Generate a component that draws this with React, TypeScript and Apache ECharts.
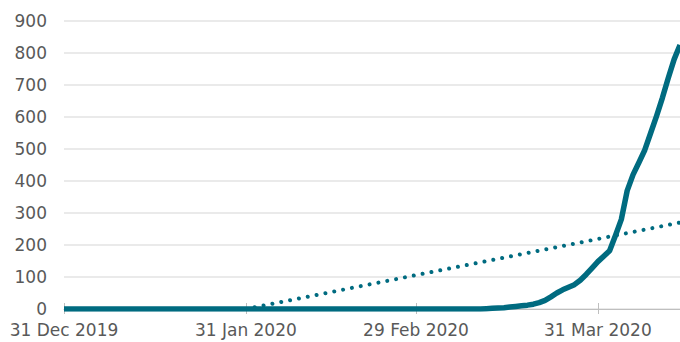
import React, { useEffect, useRef } from "react";
import * as echarts from "echarts";

// Daily dates from 31 Dec 2019 to 14 Apr 2020
const startDate = new Date(Date.UTC(2019, 11, 31));
const monthNames = ["Jan", "Feb", "Mar", "Apr", "May", "Jun", "Jul", "Aug", "Sep", "Oct", "Nov", "Dec"];
const dayCount = 106;
const categories: string[] = [];
for (let i = 0; i < dayCount; i++) {
  const d = new Date(startDate.getTime() + i * 86400000);
  categories.push(`${d.getUTCDate()} ${monthNames[d.getUTCMonth()]} ${d.getUTCFullYear()}`);
}

const tickLabels = ["31 Dec 2019", "31 Jan 2020", "29 Feb 2020", "31 Mar 2020"];

// Cumulative values (one per day)
const seriesValues: number[] = [
  0, 0, 0, 0, 0, 0, 0, 0, 0, 0,
  0, 0, 0, 0, 0, 0, 0, 0, 0, 0,
  0, 0, 0, 0, 0, 0, 0, 0, 0, 0,
  0, 0, 0, 0, 0, 0, 0, 0, 0, 0,
  0, 0, 0, 0, 0, 0, 0, 0, 0, 0,
  0, 0, 0, 0, 0, 0, 0, 0, 0, 0,
  0, 0, 0, 0, 0, 0, 0, 0, 0, 0,
  0, 0,
  1, 2, 3, 4, 6, 8, 10, 12, 15, 20,
  27, 38, 50, 60, 68, 76, 90, 108, 128, 148,
  165, 182, 230, 280, 370, 420, 458, 497, 550, 603,
  660, 722, 780, 825,
];

// Dotted trend line: start and end points
const trendStart = { date: "31 Jan 2020", value: 0 };
const trendEnd = { date: "14 Apr 2020", value: 270 };

const yTicks = { min: 0, max: 900, interval: 100 };

export default function App() {
  const ref = useRef<HTMLDivElement>(null);
  useEffect(() => {
    if (!ref.current) return;
    const chart = echarts.init(ref.current, undefined, { renderer: "svg" });
    const isTick = (index: number) => tickLabels.includes(categories[index]);
    const labelStyle = {
      color: "#595959",
      fontSize: 17,
      fontFamily: "DejaVu Sans",
    };
    chart.setOption({
      animation: false,
      grid: { left: 64, right: 0, top: 21, bottom: 33, containLabel: false },
      xAxis: [
        {
          type: "category",
          data: categories,
          boundaryGap: false,
          position: "bottom",
          axisLine: { show: true, lineStyle: { color: "#bfbfbf", width: 1 } },
          axisTick: {
            show: true,
            interval: (index: number) => isTick(index),
            length: 5,
            lineStyle: { color: "#bfbfbf", width: 1 },
          },
          axisLabel: {
            ...labelStyle,
            interval: (index: number) => isTick(index),
            margin: 12,
            showMinLabel: true,
          },
          splitLine: { show: false },
        },
        {
          type: "category",
          data: categories,
          boundaryGap: false,
          position: "bottom",
          offset: 0,
          axisLine: { show: false },
          axisTick: {
            show: true,
            inside: true,
            interval: (index: number) => isTick(index),
            length: 6,
            lineStyle: { color: "#bfbfbf", width: 1 },
          },
          axisLabel: { show: false },
          splitLine: { show: false },
        },
      ],
      yAxis: {
        type: "value",
        min: yTicks.min,
        max: yTicks.max,
        interval: yTicks.interval,
        axisLine: { show: false },
        axisTick: { show: false },
        axisLabel: { ...labelStyle, margin: 17 },
        splitLine: { show: true, lineStyle: { color: "#e3e3e3", width: 1.5 } },
      },
      series: [
        {
          type: "line",
          data: [
            [trendStart.date, trendStart.value],
            [trendEnd.date, trendEnd.value],
          ],
          showSymbol: false,
          symbol: "none",
          lineStyle: { color: "#006b80", width: 4, type: [0.01, 9], cap: "round" },
          z: 1,
        },
        {
          type: "line",
          data: seriesValues,
          showSymbol: false,
          symbol: "none",
          lineStyle: { color: "#006b80", width: 5.5, join: "round" },
          z: 3,
        },
      ],
    });
    return () => chart.dispose();
  }, []);
  return (
    <div
      ref={ref}
      style={{ position: "absolute", left: 0, top: 0, width: 680, height: 342 }}
    />
  );
}
